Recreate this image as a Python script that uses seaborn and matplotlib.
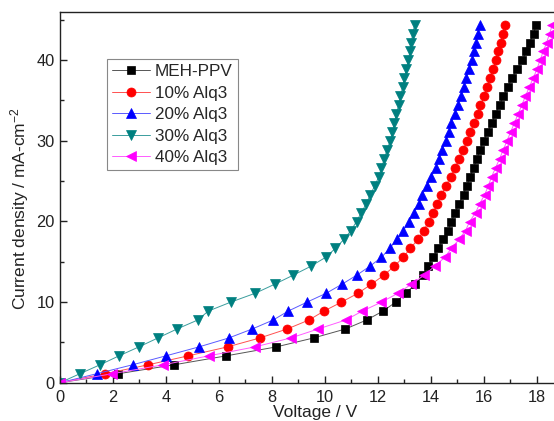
import matplotlib
matplotlib.use('Agg')
import matplotlib.pyplot as plt
import seaborn as sns
import pandas as pd
from matplotlib.ticker import MultipleLocator

# Current density values (mA/cm^2), shared by all series
current = [0, 1.11, 2.22, 3.33, 4.44, 5.55, 6.66, 7.77, 8.88, 9.99, 11.1, 12.21,
           13.32, 14.43, 15.54, 16.65, 17.76, 18.87, 19.98, 21.09, 22.2, 23.31,
           24.42, 25.53, 26.64, 27.75, 28.86, 29.97, 31.08, 32.19, 33.3, 34.41,
           35.52, 36.63, 37.74, 38.85, 39.96, 41.07, 42.18, 43.29, 44.4]

v_meh = [0, 2.2, 4.31, 6.28, 8.17, 9.58, 10.78, 11.58, 12.2, 12.68, 13.06, 13.42,
         13.7, 13.9, 14.09, 14.28, 14.47, 14.66, 14.78, 14.93, 15.07, 15.24,
         15.36, 15.5, 15.62, 15.75, 15.86, 16.0, 16.16, 16.31, 16.45, 16.6,
         16.75, 16.92, 17.07, 17.26, 17.46, 17.61, 17.74, 17.89, 17.99]
v_10 = [0, 1.7, 3.33, 4.84, 6.33, 7.55, 8.58, 9.4, 9.97, 10.63, 11.26, 11.76,
        12.23, 12.62, 12.96, 13.23, 13.52, 13.74, 13.92, 14.09, 14.25, 14.4,
        14.58, 14.75, 14.92, 15.07, 15.23, 15.36, 15.5, 15.63, 15.77, 15.88,
        16.02, 16.11, 16.25, 16.36, 16.46, 16.54, 16.64, 16.73, 16.8]
v_20 = [0, 1.38, 2.74, 4.0, 5.25, 6.38, 7.26, 8.05, 8.62, 9.33, 10.06, 10.65,
        11.2, 11.7, 12.14, 12.45, 12.72, 12.97, 13.18, 13.36, 13.55, 13.68,
        13.87, 14.03, 14.19, 14.32, 14.44, 14.57, 14.68, 14.78, 14.9, 15.03,
        15.16, 15.25, 15.35, 15.45, 15.57, 15.64, 15.72, 15.78, 15.85]
v_30 = [0, 0.75, 1.51, 2.23, 2.98, 3.7, 4.42, 5.2, 5.6, 6.45, 7.38, 8.11,
        8.8, 9.47, 10.03, 10.4, 10.72, 10.99, 11.2, 11.38, 11.57, 11.72,
        11.89, 12.04, 12.14, 12.25, 12.35, 12.47, 12.55, 12.63, 12.7, 12.79,
        12.86, 12.94, 13.0, 13.08, 13.15, 13.22, 13.27, 13.32, 13.4]
v_40 = [0, 1.97, 3.9, 5.62, 7.36, 8.72, 9.75, 10.79, 11.42, 12.14, 12.77, 13.27,
        13.75, 14.15, 14.53, 14.78, 15.07, 15.32, 15.47, 15.7, 15.85, 16.04,
        16.18, 16.3, 16.45, 16.6, 16.74, 16.88, 17.02, 17.16, 17.3, 17.44,
        17.58, 17.72, 17.87, 18.01, 18.13, 18.25, 18.38, 18.49, 18.6]

labels = ["MEH-PPV", "10% Alq3", "20% Alq3", "30% Alq3", "40% Alq3"]
voltages = [v_meh, v_10, v_20, v_30, v_40]

sns.set_style("ticks")
plt.rcParams['font.family'] = ['Liberation Sans', 'DejaVu Sans']
plt.rcParams['mathtext.default'] = 'regular'

fig = plt.figure(figsize=(5.54, 4.21), dpi=100)
ax = fig.add_axes([60 / 554, 38.3 / 421, 511 / 554, 371 / 421])

styles = [
    dict(marker='s', mc='#000000', lc='#555555', ms=5.6),
    dict(marker='o', mc='#ff0000', lc='#ff5050', ms=6.5),
    dict(marker='^', mc='#0000ff', lc='#5a5aff', ms=7.0),
    dict(marker='v', mc='#008080', lc='#3a9d9d', ms=7.0),
    dict(marker='<', mc='#ff00ff', lc='#ff5cff', ms=7.0),
]

for lab, v, st in zip(labels, voltages, styles):
    df = pd.DataFrame({"V": v, "J": current})
    sns.lineplot(data=df, x="V", y="J", ax=ax, estimator=None, sort=False,
                 color=st['lc'], linewidth=0.7, marker=st['marker'],
                 markersize=st['ms'], markerfacecolor=st['mc'],
                 markeredgecolor=st['mc'], markeredgewidth=0.5, label=lab)

ax.set_xlim(0, 19.3)
ax.set_ylim(0, 46)
ax.xaxis.set_major_locator(MultipleLocator(2))
ax.xaxis.set_minor_locator(MultipleLocator(1))
ax.yaxis.set_major_locator(MultipleLocator(10))
ax.yaxis.set_minor_locator(MultipleLocator(5))
ax.tick_params(which='both', direction='in', width=1.0, colors='#222222',
               labelcolor='#222222', labelsize=11.8)
ax.tick_params(which='major', length=5)
ax.tick_params(which='minor', length=2.6)
ax.tick_params(axis='x', pad=5)
ax.tick_params(axis='y', pad=4)
for s in ax.spines.values():
    s.set_linewidth(1.0)
    s.set_color('#222222')

ax.set_xlabel("Voltage / V", fontsize=12.5, labelpad=0.5, color='#222222')
ax.set_ylabel("Current density / mA-cm$^{-2}$", fontsize=12.5, color='#222222')
ax.yaxis.set_label_coords(-0.057, 0.47)

leg = ax.legend(loc='upper left', bbox_to_anchor=(0.092, 0.8725),
                borderaxespad=0, fontsize=12.3, frameon=True, fancybox=False,
                edgecolor='#888888', framealpha=1, handlelength=2.2,
                handletextpad=0.3, labelspacing=0.38, borderpad=0.3)
leg.get_frame().set_linewidth(0.8)

fig.savefig("out.png", dpi=100)
